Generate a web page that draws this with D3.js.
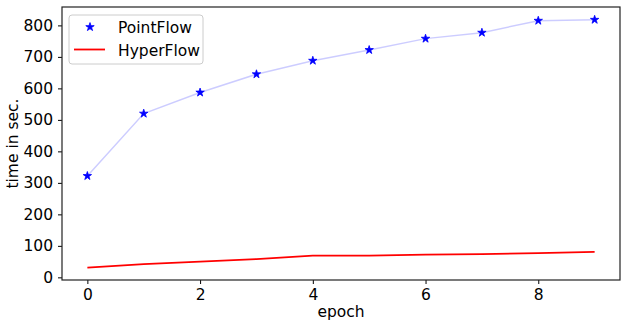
<!DOCTYPE html>
<html>
<head>
<meta charset="utf-8">
<script src="https://cdn.jsdelivr.net/npm/d3@7"></script>
<style>
	body { margin: 0; background: #fff; }
	text { font-family: "DejaVu Sans", sans-serif; fill: #000; }
	.axis path, .axis line { stroke: #000; }
</style>
</head>
<body>
<div id="chart"></div>
<script>
var epochs = [0, 1, 2, 3, 4, 5, 6, 7, 8, 9];
var pointFlow = [322, 520, 587, 645, 688, 722, 758, 777, 815, 818];
var hyperFlow = [31, 42, 50, 58, 69, 69, 72, 74, 77, 81];
var xTicks = [0, 2, 4, 6, 8];
var yTicks = [0, 100, 200, 300, 400, 500, 600, 700, 800];

var W = 627, H = 327;
var margin = { left: 62, top: 7, right: 7, bottom: 47 };
var w = 620 - margin.left, h = 280 - margin.top;

var svg = d3.select("#chart").append("svg")
	.attr("width", W)
	.attr("height", H);

var g = svg.append("g")
	.attr("transform", "translate(" + margin.left + "," + margin.top + ")");

var x = d3.scaleLinear().domain([-0.45, 9.45]).range([0, w]);
var y = d3.scaleLinear().domain([-8.4, 858.4]).range([h, 0]);

// axes
g.append("g")
	.attr("class", "axis")
	.attr("transform", "translate(0," + h + ")")
	.call(d3.axisBottom(x).tickValues(xTicks).tickSize(4).tickPadding(5).tickFormat(d3.format("d")));

g.append("g")
	.attr("class", "axis")
	.call(d3.axisLeft(y).tickValues(yTicks).tickSize(4).tickPadding(5).tickFormat(d3.format("d")));

g.selectAll(".axis text").style("font-size", "15.5px").style("fill", "#000");
g.selectAll(".axis .domain").remove();

// frame
g.append("rect")
	.attr("width", w)
	.attr("height", h)
	.attr("fill", "none")
	.attr("stroke", "#222")
	.attr("stroke-width", 1.2);

// labels
g.append("text")
	.text("epoch")
	.attr("x", w / 2)
	.attr("y", h + 37)
	.attr("text-anchor", "middle")
	.style("font-size", "15.5px");

g.append("text")
	.text("time in sec.")
	.attr("transform", "rotate(-90)")
	.attr("x", -h / 2)
	.attr("y", -44)
	.attr("text-anchor", "middle")
	.style("font-size", "15.5px");

// lines
var line = d3.line()
	.x(function(d, i) { return x(epochs[i]); })
	.y(function(d) { return y(d); });

g.append("path")
	.datum(pointFlow)
	.attr("d", line)
	.attr("fill", "none")
	.attr("stroke", "rgba(0,0,255,0.2)")
	.attr("stroke-width", 1.5);

var star = d3.symbol().type(d3.symbolStar).size(22);

g.selectAll(".star")
	.data(pointFlow)
	.enter().append("path")
	.attr("class", "star")
	.attr("d", star)
	.attr("transform", function(d, i) { return "translate(" + x(epochs[i]) + "," + y(d) + ")"; })
	.attr("fill", "blue")
	.attr("stroke", "blue")
	.attr("stroke-width", 0.8);

g.append("path")
	.datum(hyperFlow)
	.attr("d", line)
	.attr("fill", "none")
	.attr("stroke", "red")
	.attr("stroke-width", 1.8);

// legend
var lg = g.append("g").attr("transform", "translate(7,8)");

lg.append("rect")
	.attr("width", 134)
	.attr("height", 49)
	.attr("rx", 3)
	.attr("fill", "#fff")
	.attr("fill-opacity", 0.8)
	.attr("stroke", "#ccc");

lg.append("path")
	.attr("d", star)
	.attr("transform", "translate(21,12)")
	.attr("fill", "blue")
	.attr("stroke", "blue")
	.attr("stroke-width", 0.8);

lg.append("text")
	.text("PointFlow")
	.attr("x", 49)
	.attr("y", 18)
	.style("font-size", "15.5px");

lg.append("line")
	.attr("x1", 5).attr("x2", 36)
	.attr("y1", 34.5).attr("y2", 34.5)
	.attr("stroke", "red")
	.attr("stroke-width", 1.8);

lg.append("text")
	.text("HyperFlow")
	.attr("x", 49)
	.attr("y", 40.5)
	.style("font-size", "15.5px");
</script>
</body>
</html>
